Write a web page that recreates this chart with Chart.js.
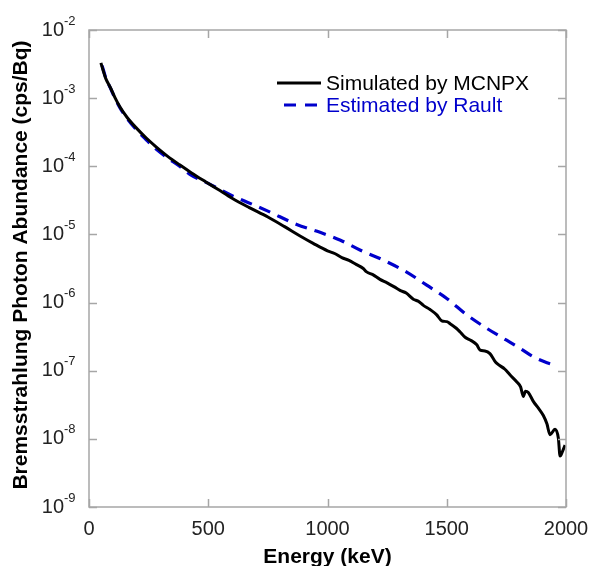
<!DOCTYPE html>
<html>
<head>
<meta charset="utf-8">
<script src="https://cdn.jsdelivr.net/npm/chart.js@4/dist/chart.umd.min.js"></script>
<style>
  html, body { margin: 0; padding: 0; background: #fff; }
  #wrap { width: 592px; height: 566px; }
</style>
</head>
<body>
<div id="wrap"><canvas id="myChart" width="592" height="566"></canvas></div>
<script>
// energy (keV) / abundance (cps/Bq)
const mcnpx_energy = [50, 60, 70, 90, 110, 130, 160, 200, 240, 280, 330, 380, 430, 490, 540, 600, 670, 750, 820, 885, 940,
  1000, 1030, 1060, 1090, 1120, 1150, 1164, 1190, 1220, 1250, 1280, 1304, 1330, 1360, 1380, 1402, 1430, 1458, 1479, 1500,
  1514, 1540, 1556, 1577, 1600, 1626, 1640, 1660, 1681, 1700, 1709, 1744, 1765, 1793, 1810, 1821, 1830, 1842, 1863, 1885,
  1905, 1920, 1933, 1954, 1968, 1975, 1985, 1996];
const mcnpx_value = [3.3e-3, 2.5e-3, 1.95e-3, 1.42e-3, 1.0e-3, 7.4e-4, 5.2e-4, 3.6e-4, 2.6e-4, 1.95e-4, 1.4e-4, 1.05e-4, 8.0e-5, 5.9e-5, 4.6e-5, 3.4e-5, 2.5e-5, 1.8e-5, 1.3e-5, 9.5e-6, 7.4e-6,
  5.75e-6, 5.25e-6, 4.57e-6, 4.17e-6, 3.63e-6, 3.16e-6, 2.82e-6, 2.57e-6, 2.19e-6, 1.95e-6, 1.7e-6, 1.51e-6, 1.38e-6, 1.12e-6, 1.05e-6,
  9.1e-7, 7.9e-7, 6.6e-7, 5.4e-7, 5.25e-7, 4.9e-7, 4.2e-7, 3.7e-7, 3.1e-7, 2.8e-7, 2.4e-7, 2.0e-7, 1.95e-7, 1.78e-7, 1.41e-7, 1.29e-7,
  1.05e-7, 8.7e-8, 6.9e-8, 5.75e-8, 4.2e-8, 5.0e-8, 4.8e-8, 3.55e-8, 2.8e-8, 2.2e-8, 1.66e-8, 1.15e-8, 1.38e-8, 1.02e-8, 5.6e-9, 6.5e-9, 8.1e-9];

const rault_energy = [55, 70, 90, 110, 130, 160, 200, 240, 280, 330, 380, 423, 500, 600, 661, 750, 871, 960, 1052, 1136, 1234, 1332, 1416, 1500, 1584, 1667, 1751, 1810, 1863, 1910, 1954];
const rault_value = [3.0e-3, 2.0e-3, 1.4e-3, 9.8e-4, 7.2e-4, 5.0e-4, 3.4e-4, 2.45e-4, 1.8e-4, 1.32e-4, 1.0e-4, 7.6e-5, 5.6e-5, 3.7e-5, 3.0e-5, 2.2e-5, 1.4e-5, 1.1e-5, 8.3e-6, 5.9e-6, 4.2e-6, 2.8e-6, 1.8e-6, 1.15e-6, 6.6e-7, 4.2e-7, 2.8e-7, 2.1e-7, 1.6e-7, 1.35e-7, 1.2e-7];

const x_ticks = [0, 500, 1000, 1500, 2000];
const y_exponents = [-2, -3, -4, -5, -6, -7, -8, -9];

const series_labels = ['Simulated by MCNPX', 'Estimated by Rault'];
const x_title = 'Energy (keV)';
const y_title = 'Bremsstrahlung Photon Abundance (cps/Bq)';

const BLUE = '#0000cc';
const AXIS = '#a6a6a6';
const FONT = '"Liberation Sans", Arial, sans-serif';

const makePoints = (xs, ys) => xs.map((x, i) => ({ x: x, y: ys[i] }));

// frame, ticks, tick labels, titles and legend
const axesPlugin = {
  id: 'matlab_axes',
  afterDraw: (chart) => {
    const ctx = chart.ctx;
    const a = chart.chartArea;
    const xs = chart.scales.x;
    const ys = chart.scales.y;
    ctx.save();

    ctx.strokeStyle = AXIS;
    ctx.lineWidth = 1.5;
    ctx.strokeRect(a.left, a.top, a.right - a.left, a.bottom - a.top);

    ctx.beginPath();
    x_ticks.forEach((v) => {
      const px = Math.round(xs.getPixelForValue(v)) + 0.5;
      ctx.moveTo(px, a.bottom); ctx.lineTo(px, a.bottom - 8);
      ctx.moveTo(px, a.top); ctx.lineTo(px, a.top + 8);
    });
    y_exponents.forEach((e) => {
      const py = Math.round(ys.getPixelForValue(Math.pow(10, e))) + 0.5;
      ctx.moveTo(a.left, py); ctx.lineTo(a.left + 8, py);
      ctx.moveTo(a.right, py); ctx.lineTo(a.right - 8, py);
    });
    ctx.stroke();

    // x tick labels
    ctx.fillStyle = '#222';
    ctx.font = '20px ' + FONT;
    ctx.textAlign = 'center';
    ctx.textBaseline = 'middle';
    x_ticks.forEach((v) => {
      ctx.fillText(String(v), xs.getPixelForValue(v), a.bottom + 22);
    });

    // y tick labels: 10 with raised exponent
    y_exponents.forEach((e) => {
      const py = ys.getPixelForValue(Math.pow(10, e));
      ctx.font = '20px ' + FONT;
      ctx.textAlign = 'right';
      ctx.textBaseline = 'middle';
      ctx.fillText('10', 64, py);
      ctx.font = '13px ' + FONT;
      ctx.textAlign = 'left';
      ctx.fillText(String(e), 64, py - 9);
    });

    // axis titles
    ctx.fillStyle = '#000';
    ctx.font = 'bold 21px ' + FONT;
    ctx.textAlign = 'center';
    ctx.textBaseline = 'middle';
    ctx.fillText(x_title, (a.left + a.right) / 2, 557);
    ctx.save();
    ctx.translate(21, 265);
    ctx.rotate(-Math.PI / 2);
    ctx.fillText(y_title, 0, 0);
    ctx.restore();

    // legend
    ctx.lineWidth = 3;
    ctx.strokeStyle = '#000';
    ctx.beginPath(); ctx.moveTo(277, 83); ctx.lineTo(321, 83); ctx.stroke();
    ctx.strokeStyle = BLUE;
    ctx.setLineDash([12, 9]);
    ctx.beginPath(); ctx.moveTo(284, 105); ctx.lineTo(321, 105); ctx.stroke();
    ctx.setLineDash([]);
    ctx.font = '21px ' + FONT;
    ctx.textAlign = 'left';
    ctx.fillStyle = '#000';
    ctx.fillText(series_labels[0], 326, 84);
    ctx.fillStyle = BLUE;
    ctx.fillText(series_labels[1], 326, 106);

    ctx.restore();
  },
};

const config = {
  type: 'line',
  data: {
    datasets: [
      {
        label: series_labels[0],
        data: makePoints(mcnpx_energy, mcnpx_value),
        borderColor: '#000',
        borderWidth: 3,
        pointRadius: 0,
        cubicInterpolationMode: 'monotone',
        fill: false,
      },
      {
        label: series_labels[1],
        data: makePoints(rault_energy, rault_value),
        borderColor: BLUE,
        borderWidth: 3.2,
        borderDash: [12, 8],
        pointRadius: 0,
        cubicInterpolationMode: 'monotone',
        fill: false,
      },
    ],
  },
  plugins: [axesPlugin],
  options: {
    responsive: false,
    animation: false,
    events: [],
    layout: { padding: { left: 89, top: 30, right: 26, bottom: 59 } },
    plugins: { legend: { display: false }, tooltip: { enabled: false } },
    scales: {
      x: { type: 'linear', min: 0, max: 2000, display: false },
      y: { type: 'logarithmic', min: 1e-9, max: 1e-2, display: false },
    },
  },
};

const myChart = new Chart(document.getElementById('myChart'), config);
</script>
</body>
</html>
